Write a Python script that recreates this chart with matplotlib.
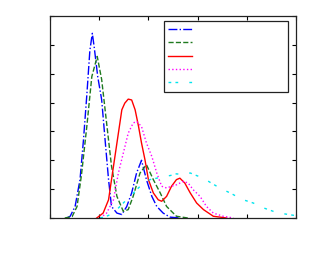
import matplotlib
matplotlib.use('Agg')
import matplotlib.pyplot as plt

# ── data (arbitrary units, x 0–5, y 0–7) ─────────────────────────────────────
blue_x = [0.34, 0.41, 0.51, 0.61, 0.68, 0.75, 0.81, 0.86, 0.90, 0.97, 1.05, 1.12,
          1.19, 1.25, 1.36, 1.46, 1.56, 1.66, 1.76, 1.86, 1.96, 2.07, 2.17, 2.30,
          2.44, 2.64]
blue_y = [0.0, 0.06, 0.4, 1.33, 2.7, 4.3, 5.8, 6.4, 5.9, 4.9, 4.1, 2.7,
          1.33, 0.4, 0.17, 0.12, 0.4, 0.87, 1.56, 2.0, 1.33, 0.75, 0.4, 0.17,
          0.03, 0.0]

green_x = [0.30, 0.45, 0.55, 0.64, 0.75, 0.85, 0.96, 1.05, 1.15, 1.25, 1.36, 1.49,
           1.59, 1.69, 1.83, 1.96, 2.10, 2.24, 2.37, 2.57, 2.80]
green_y = [0.0, 0.05, 0.4, 1.5, 3.2, 4.9, 5.6, 4.8, 3.3, 1.8, 0.75, 0.23,
           0.29, 0.75, 1.56, 1.85, 1.33, 0.87, 0.4, 0.06, 0.0]

red_x = [0.95, 1.08, 1.19, 1.29, 1.39, 1.46, 1.52, 1.59, 1.66, 1.73, 1.80, 1.86,
         1.93, 2.00, 2.10, 2.20, 2.27, 2.37, 2.47, 2.57, 2.64, 2.74, 2.85, 2.98,
         3.12, 3.32, 3.59]
red_y = [0.0, 0.17, 0.63, 1.79, 2.94, 3.75, 3.98, 4.12, 4.09, 3.75, 3.17, 2.6,
         2.02, 1.33, 0.87, 0.63, 0.58, 0.75, 1.1, 1.33, 1.38, 1.21, 0.87, 0.52,
         0.29, 0.06, 0.0]

mag_x = [1.02, 1.15, 1.29, 1.39, 1.49, 1.59, 1.69, 1.76, 1.86, 1.96, 2.07, 2.17,
         2.27, 2.37, 2.47, 2.57, 2.71, 2.81, 2.91, 3.05, 3.18, 3.32, 3.52, 3.73]
mag_y = [0.0, 0.17, 0.63, 1.56, 2.25, 2.94, 3.29, 3.35, 3.17, 2.6, 2.13, 1.56,
         1.10, 1.04, 1.10, 1.15, 1.27, 1.21, 0.98, 0.75, 0.40, 0.17, 0.06, 0.0]

cyan_x = [1.02, 1.15, 1.29, 1.49, 1.63, 1.76, 1.90, 2.03, 2.17, 2.30, 2.44, 2.57,
          2.71, 2.85, 2.98, 3.12, 3.25, 3.39, 3.52, 3.66, 3.79, 3.93, 4.13, 4.34,
          4.54, 4.74, 5.00]
cyan_y = [0.0, 0.06, 0.17, 0.52, 0.75, 0.98, 1.21, 1.33, 1.38, 1.44, 1.47, 1.53,
          1.50, 1.56, 1.47, 1.38, 1.24, 1.10, 0.98, 0.87, 0.75, 0.63, 0.52, 0.35,
          0.23, 0.15, 0.08]

fig = plt.figure(figsize=(3.13, 2.63), dpi=100)
ax = fig.add_axes([50 / 313, 1 - 218 / 263, 246 / 313, 202 / 263])

h1, = ax.plot(blue_x, blue_y, color='#0000ff', ls='-.', lw=1.0)
h2, = ax.plot(green_x, green_y, color='#1f7a1f', ls='--', lw=1.0)
h3, = ax.plot(red_x, red_y, color='#ff0000', ls='-', lw=1.0)
h4, = ax.plot(mag_x, mag_y, color='#ff00ff', ls=':', lw=1.0)
h5, = ax.plot(cyan_x, cyan_y, color='#00e5ee', lw=1.0, dashes=[2, 3, 2, 8])

ax.set_xlim(0, 5)
ax.set_ylim(0, 7)
ax.set_xticks(range(6))
ax.set_yticks(range(8))
ax.tick_params(direction='in', length=3, top=True, right=True,
               labelbottom=False, labelleft=False)
for s in ax.spines.values():
    s.set_linewidth(0.9)
    s.set_color('#222222')

# legend entries have no text in the reference, only the line samples
leg = ax.legend([h1, h2, h3, h4, h5], [' '] * 5,
                bbox_to_anchor=(0.463, 0.634, 0.504, 0.341), loc='upper left',
                mode='expand', borderaxespad=0, fontsize=8, handlelength=2.2,
                labelspacing=0.3, borderpad=0.35, fancybox=False, framealpha=1)
leg.get_frame().set_edgecolor('#222222')
leg.get_frame().set_linewidth(0.9)

fig.savefig('out.png', dpi=100)
